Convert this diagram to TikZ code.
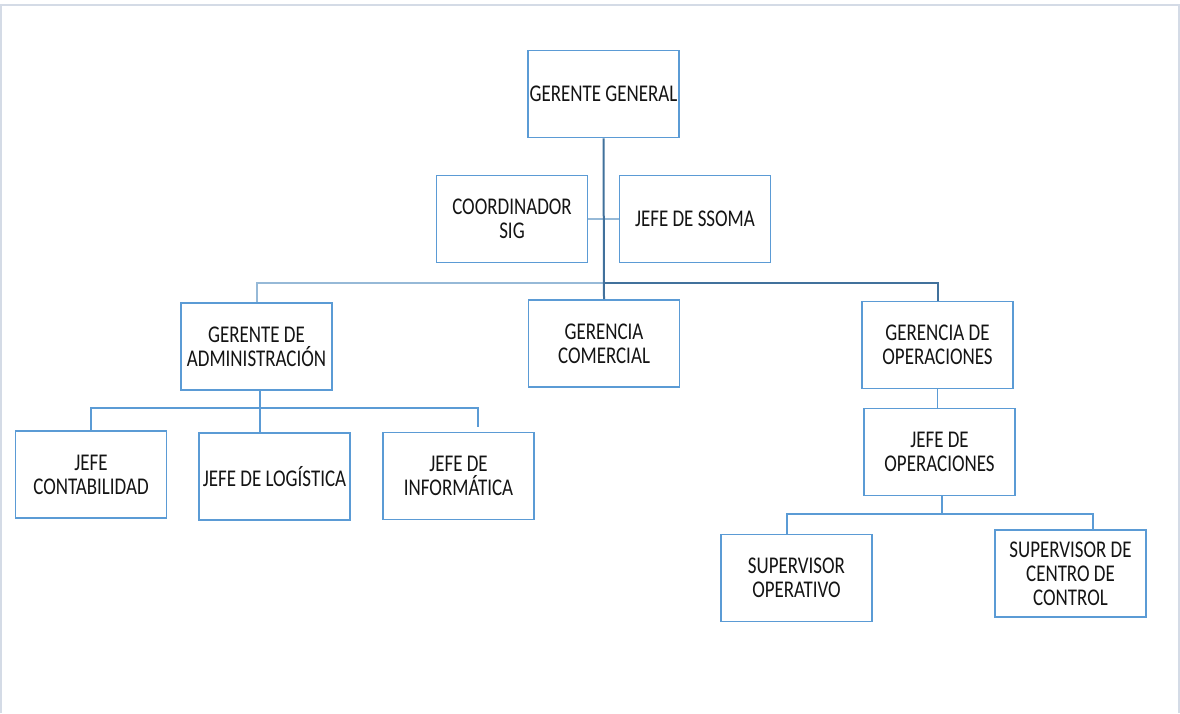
\documentclass[tikz,border=0pt]{standalone}
\usepackage{fontspec}
\setmainfont[FakeStretch=0.79]{Carlito}
\definecolor{boxblue}{RGB}{91,155,213}
\definecolor{darkblue}{RGB}{65,113,156}
\definecolor{lightblue}{RGB}{150,185,215}
\definecolor{framecol}{RGB}{212,219,230}
\definecolor{txt}{RGB}{20,20,20}
\begin{document}
\begin{tikzpicture}[x=1pt,y=-1pt,
  box/.style={draw=boxblue, line width=1.6pt, minimum width=151pt, minimum height=87pt,
    align=center, inner sep=0pt, text=txt, font=\fontsize{24}{24}\selectfont},
  ln/.style={draw=boxblue, line width=1.6pt},
  dk/.style={draw=darkblue, line width=2pt},
  lt/.style={draw=lightblue, line width=2pt}]
\useasboundingbox (0,0) rectangle (1180,713);
\draw[framecol, line width=2pt] (1,713) -- (1,5) -- (1179,5) -- (1179,713);

\node[box] (gg) at (603.5,94) {GERENTE GENERAL};
\node[box] (sig) at (512,219) {COORDINADOR\\SIG};
\node[box] (ssoma) at (695,219) {JEFE DE SSOMA};
\node[box] (ga) at (256.5,346.5) {GERENTE DE\\ADMINISTRACIÓN};
\node[box] (gc) at (604,343.5) {GERENCIA\\COMERCIAL};
\node[box] (go) at (937.5,345) {GERENCIA DE\\OPERACIONES};
\node[box] (jc) at (91,474.5) {JEFE\\CONTABILIDAD};
\node[box] (jl) at (274.5,476.5) {JEFE DE LOGÍSTICA};
\node[box] (ji) at (458.5,476) {JEFE DE\\INFORMÁTICA};
\node[box] (jo) at (939.5,452) {JEFE DE\\OPERACIONES};
\node[box] (so) at (796.5,578) {SUPERVISOR\\OPERATIVO};
\node[box] (scc) at (1070.5,573.5) {SUPERVISOR DE\\CENTRO DE\\CONTROL};

\coordinate (j1) at (604,283);
\coordinate (a1) at (260,408);
\coordinate (a2) at (478,427);
\coordinate (o1) at (942,514);
\coordinate (o2) at (787,514);
\coordinate (o3) at (1093,514);

\draw[lt] (sig.east) -- (ssoma.west);
\draw[lt] (ga.north) |- (j1);
\draw[dk] (j1) -| (go.north);
\draw[dk] (gg.south) -- (gc.north);

\draw[ln] (ga.south -| a1) -- (jl.north -| a1);
\draw[ln] (jc.north) |- (a1) -| (a2);

\draw[ln] (go.south) -- (go.south |- jo.north);
\draw[ln] (jo.south -| o1) -- (o1);
\draw[ln] (so.north -| o2) -- (o2) -- (o3) -- (scc.north -| o3);
\end{tikzpicture}
\end{document}
